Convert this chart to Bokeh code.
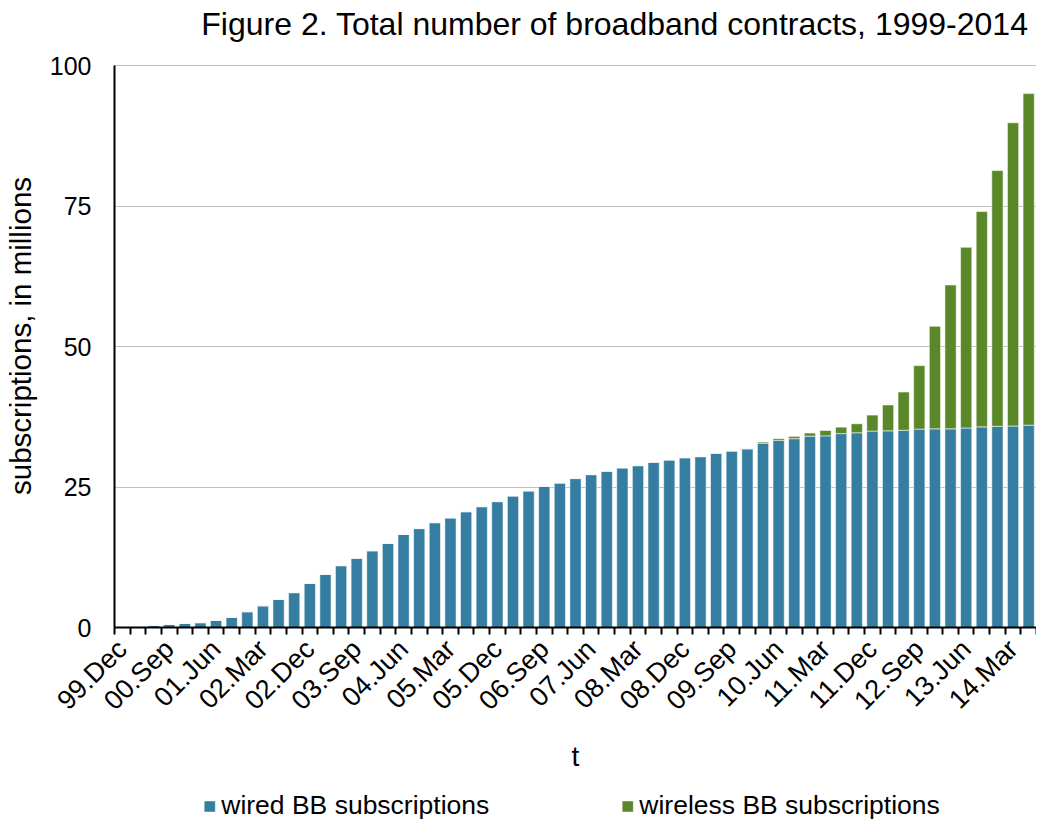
from bokeh.plotting import figure
from bokeh.models import FixedTicker, Legend, LegendItem, ColumnDataSource, Range1d, Title
from bokeh.layouts import column
from bokeh.embed import file_html
from bokeh.resources import INLINE
import math

quarters = [
    "99.Dec", "00.Mar", "00.Jun", "00.Sep", "00.Dec", "01.Mar", "01.Jun", "01.Sep", "01.Dec",
    "02.Mar", "02.Jun", "02.Sep", "02.Dec", "03.Mar", "03.Jun", "03.Sep", "03.Dec",
    "04.Mar", "04.Jun", "04.Sep", "04.Dec", "05.Mar", "05.Jun", "05.Sep", "05.Dec",
    "06.Mar", "06.Jun", "06.Sep", "06.Dec", "07.Mar", "07.Jun", "07.Sep", "07.Dec",
    "08.Mar", "08.Jun", "08.Sep", "08.Dec", "09.Mar", "09.Jun", "09.Sep", "09.Dec",
    "10.Mar", "10.Jun", "10.Sep", "10.Dec", "11.Mar", "11.Jun", "11.Sep", "11.Dec",
    "12.Mar", "12.Jun", "12.Sep", "12.Dec", "13.Mar", "13.Jun", "13.Sep", "13.Dec",
    "14.Mar", "14.Jun",
]

wired = [
    0.05, 0.15, 0.36, 0.53, 0.71, 0.85, 1.25, 1.8, 2.8, 3.85,
    5.0, 6.2, 7.85, 9.45, 11.0, 12.3, 13.65, 14.95, 16.55, 17.6,
    18.65, 19.5, 20.6, 21.5, 22.4, 23.4, 24.3, 25.1, 25.7, 26.5,
    27.2, 27.8, 28.4, 28.8, 29.4, 29.8, 30.2, 30.4, 31.0, 31.4,
    31.8, 32.8, 33.3, 33.6, 34.05, 34.1, 34.5, 34.65, 34.95, 35.0,
    35.1, 35.3, 35.35, 35.35, 35.5, 35.7, 35.8, 35.85, 36.0,
]

wireless = [
    0, 0, 0, 0, 0, 0, 0, 0, 0, 0,
    0, 0, 0, 0, 0, 0, 0, 0, 0, 0,
    0, 0, 0, 0, 0, 0, 0, 0, 0, 0,
    0, 0, 0, 0, 0, 0, 0, 0, 0, 0,
    0, 0.2, 0.3, 0.4, 0.55, 0.95, 1.15, 1.6, 2.85, 4.6,
    6.8, 11.3, 18.25, 25.6, 32.15, 38.3, 45.5, 53.95, 59.0,
]

tick_labels = ["99.Dec", "00.Sep", "01.Jun", "02.Mar", "02.Dec", "03.Sep", "04.Jun",
               "05.Mar", "05.Dec", "06.Sep", "07.Jun", "08.Mar", "08.Dec", "09.Sep",
               "10.Jun", "11.Mar", "11.Dec", "12.Sep", "13.Jun", "14.Mar"]
series_names = ["wired BB subscriptions", "wireless BB subscriptions"]
y_ticks = [0, 25, 50, 75, 100]

BLUE = "#367ea1"
GREEN = "#5a8728"
FONT = "Liberation Sans"

n = len(quarters)
xs = [i + 0.5 for i in range(n)]
src = ColumnDataSource(dict(x=xs, wired=wired, wireless=wireless, q=quarters))

# frame is 21 px taller than the 0-100 span so that the title sits higher
fig = figure(
    frame_width=922, frame_height=583,
    x_range=Range1d(0, n), y_range=Range1d(0, 100 * 583 / 562),
    output_backend="svg", toolbar_location=None,
    min_border_left=0, min_border_right=0, min_border_top=0, min_border_bottom=0,
)
fig.outline_line_color = None
fig.background_fill_color = "white"

renderers = fig.vbar_stack(["wired", "wireless"], x="x", width=0.72, source=src,
                           fill_color=[BLUE, GREEN], line_color="white", line_alpha=0.55,
                           line_width=1)

# x axis (bottom)
label_pos = [quarters.index(t) + 0.5 for t in tick_labels]
xa = fig.below[0]
xa.ticker = FixedTicker(ticks=label_pos, minor_ticks=list(range(n + 1)))
xa.major_label_overrides = {pos: lab for pos, lab in zip(label_pos, tick_labels)}
xa.major_tick_in = 0
xa.major_tick_out = 0
xa.minor_tick_in = 0
xa.minor_tick_out = 7
xa.minor_tick_line_color = "black"
xa.minor_tick_line_width = 2
xa.axis_line_color = "black"
xa.axis_line_width = 2
xa.major_label_orientation = math.pi / 4
xa.major_label_text_font = FONT
xa.major_label_text_font_size = "27px"
xa.major_label_text_color = "black"
xa.major_label_standoff = 10
xa.axis_label = "t"
xa.axis_label_text_font = FONT
xa.axis_label_text_font_size = "28px"
xa.axis_label_text_font_style = "normal"
xa.axis_label_text_color = "black"
xa.axis_label_standoff = 12

# y axis
ya = fig.left[0]
ya.ticker = FixedTicker(ticks=y_ticks)
ya.bounds = (0, 100)
ya.major_tick_in = 0
ya.major_tick_out = 0
ya.minor_tick_line_color = None
ya.axis_line_color = "black"
ya.axis_line_width = 2
ya.major_label_text_font = FONT
ya.major_label_text_font_size = "25px"
ya.major_label_text_color = "black"
ya.major_label_standoff = 23
ya.axis_label = "subscriptions, in millions"
ya.axis_label_text_font = FONT
ya.axis_label_text_font_size = "29.5px"
ya.axis_label_text_font_style = "normal"
ya.axis_label_text_color = "black"
ya.axis_label_standoff = 10

title = Title(text="Figure 2. Total number of broadband contracts, 1999-2014",
              text_font=FONT, text_font_size="32px", text_font_style="normal",
              text_color="black", text_line_height=1.0, align="right",
              offset=8, standoff=6)
fig.add_layout(title, "above")

fig.xgrid.grid_line_color = None
fig.ygrid.ticker = FixedTicker(ticks=y_ticks)
fig.ygrid.grid_line_color = "#c0c0c0"
fig.ygrid.grid_line_width = 1

# legend strip below the chart; its swatch renderers use the chart data but
# sit outside this strip's x range, so only the legend itself is visible
leg = figure(
    width=1028, height=46, x_range=Range1d(-3, -2), y_range=Range1d(0, 1),
    x_axis_type=None, y_axis_type=None,
    output_backend="svg", toolbar_location=None,
    min_border_left=106, min_border_right=0, min_border_top=0, min_border_bottom=0,
)
leg.outline_line_color = None
leg.xgrid.visible = False
leg.ygrid.visible = False
sw_wired = leg.vbar(x="x", top="wired", width=0.72, source=src, fill_color=BLUE,
                    line_color="white", line_alpha=0.55)
sw_wireless = leg.vbar(x="x", top="wireless", width=0.72, source=src, fill_color=GREEN,
                       line_color="white", line_alpha=0.55)
legend = Legend(
    items=[LegendItem(label=series_names[0], renderers=[sw_wired]),
           LegendItem(label=series_names[1], renderers=[sw_wireless])],
    orientation="horizontal", location="bottom_center", spacing=131,
    glyph_width=14, glyph_height=14, label_standoff=5,
    label_text_font=FONT, label_text_font_size="26.5px", label_text_color="black",
    border_line_color=None, background_fill_alpha=0, padding=0, margin=0,
)
leg.add_layout(legend, "center")

p = column(fig, leg)

open("out.html", "w").write(file_html(p, INLINE))
